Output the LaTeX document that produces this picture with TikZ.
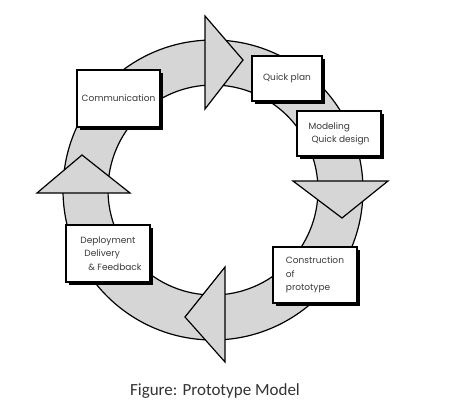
\documentclass[tikz,border=0pt]{standalone}
\usepackage{fontspec}
\setmainfont{Poppins}
\newfontfamily\capfont{Carlito}
\usetikzlibrary{shadows}
\definecolor{ringgray}{HTML}{D6D6D6}
\definecolor{txtgray}{HTML}{3A3A3A}
\begin{document}
\begin{tikzpicture}[x=1pt,y=-1pt,
  ringline/.style={line width=1.2pt, draw=black, fill=ringgray},
  headshape/.style={line width=1.2pt, draw=black, fill=ringgray, line join=miter},
  stagebox/.style={draw=black, fill=white, line width=1.2pt, inner sep=0pt,
    general shadow={fill=black, shadow xshift=3pt, shadow yshift=-3pt},
    font=\fontsize{9}{13.3}\selectfont, text=txtgray, align=left},
  captext/.style={font=\capfont\fontsize{17}{20}\selectfont, text=black!80}]
\useasboundingbox[fill=white] (0,0) rectangle (474,415);
% ring
\path[ringline, even odd rule] (213,190) circle[radius=150] (213,190) circle[radius=105];
% arrow heads
\path[headshape] (205,16) -- (243,60) -- (205,109) -- cycle;
\path[headshape] (293,181) -- (388,181) -- (342,218) -- cycle;
\path[headshape] (225,267) -- (225,362) -- (185,317) -- cycle;
\path[headshape] (37,193) -- (130,193) -- (82,155) -- cycle;
% boxes
\node[stagebox, minimum width=83pt, minimum height=57pt] (comm) at (118.5,98.5) {Communication};
\node[stagebox, minimum width=70pt, minimum height=45pt] (plan) at (287,78.5) {Quick plan};
\node[stagebox, minimum width=84pt, minimum height=45pt] (model) at (339,133.5) {Modeling\\\hspace*{3pt}Quick design};
\node[stagebox, minimum width=84pt, minimum height=56pt] (constr) at (315,275) {Construction\\of\\prototype};
\node[stagebox, minimum width=84pt, minimum height=57pt] (deploy) at (108,253.5) {\hspace*{6pt}Deployment\\\hspace*{10pt}Delivery\\\hspace*{14pt}\& Feedback};
% caption
\node[captext] (cap) at (215,391) {Figure: Prototype Model};
\end{tikzpicture}
\end{document}
